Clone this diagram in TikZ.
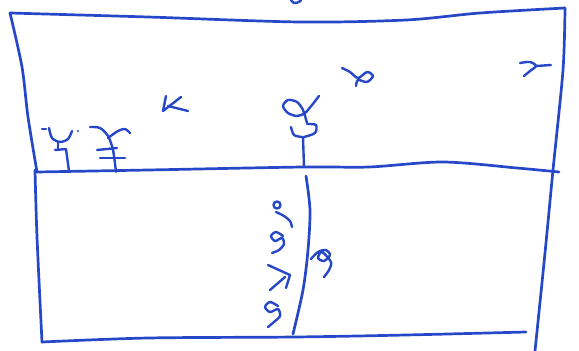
\documentclass[tikz,border=0pt]{standalone}
\definecolor{penc}{RGB}{38,72,200}
\begin{document}
\begin{tikzpicture}[x=1pt,y=-1pt,
  pen/.style={draw=penc, line width=2.7pt, line cap=round, line join=round},
  glyph/.style={draw=penc, line width=2.4pt, line cap=round, line join=round}]
\useasboundingbox (0,0) rectangle (579,351);
% frame
\coordinate (tl) at (10,13);
\coordinate (tr) at (565,8);
\coordinate (ml) at (37,172);
\coordinate (mr) at (559,172);
\coordinate (bl) at (42,342);
\coordinate (br) at (526,332);
\draw[pen] plot[smooth] coordinates {(tl) (148,17) (300,22) (406,20) (480,13) (tr)};
\draw[pen] plot[smooth] coordinates {(tl) (22,67) (28,117) (ml)};
\draw[pen] plot[smooth] coordinates {(35,170) (37,237) (bl)};
\draw[pen] plot[smooth] coordinates {(tr) (563,70) (553,170) (545,253) (535,351)};
\draw[pen] plot[smooth] coordinates {(ml) (148,170) (303,167) (369,167) (443,162) (517,168) (mr)};
\draw[pen] plot[smooth] coordinates {(bl) (148,338) (295,337) (406,335) (br)};
\draw[pen] plot[smooth] coordinates {(306,176) (310,210) (308,250) (303,290) (293,334)};
% top edge glyph
\draw[glyph] plot[smooth] coordinates {(291,0) (294,3) (299,2) (301,0)};
% upper panel glyphs
\draw[glyph] (166,96) -- (163,111) -- (181,97);
\draw[glyph] (168,106) -- (188,111);
\draw[glyph] plot[smooth] coordinates {(342,68) (350,72) (358,78) (367,72) (373,76) (367,82) (358,80) (356,86)};
\draw[glyph] plot[smooth] coordinates {(520,63) (530,62) (536,66) (530,71) (524,76)};
\draw[glyph] (536,66) -- (551,65);
% plant glyph
\draw[glyph] plot[smooth] coordinates {(319,96) (312,105) (305,113) (297,116) (288,113) (283,106) (288,100) (297,102) (303,110) (307,123)};
\draw[glyph] plot[smooth] coordinates {(307,124) (316,125) (315,133) (304,137)};
\draw[glyph] plot[smooth] coordinates {(291,127) (294,135) (302,137)};
\draw[glyph] (303,137) -- (304,167);
% left glyphs
\draw[glyph] (42,129) -- (46,129);
\draw[glyph] plot[smooth] coordinates {(49,128) (52,138) (60,142) (68,139) (72,131)};
\fill[penc] (78,131) circle (1.2pt);
\draw[glyph] (58,142) -- (58,149);
\draw[glyph] (55,150) -- (66,149) -- (69,171);
\draw[glyph] plot[smooth] coordinates {(90,127) (100,128) (108,136) (113,150) (116,172)};
\draw[glyph] plot[smooth] coordinates {(108,138) (118,131) (125,129) (130,133)};
\draw[glyph] (97,150) -- (117,148);
\draw[glyph] (100,158) -- (125,158);
% lower column glyphs
\draw[glyph] (277,205) circle (3.5pt);
\draw[glyph] plot[smooth] coordinates {(276,212) (284,216) (290,221) (292,227)};
\draw[glyph] plot[smooth] coordinates {(283,236) (276,232) (271,236) (275,241) (282,238) (284,244) (279,250) (272,253)};
\draw[glyph] (268,265) -- (290,275) -- (286,288);
\draw[glyph] (270,290) -- (285,277);
\draw[glyph] plot[smooth] coordinates {(278,306) (270,302) (265,307) (270,312) (278,309) (280,316) (274,322) (268,327)};
\draw[glyph] plot[smooth] coordinates {(311,259) (318,252) (326,250) (330,255) (324,261) (318,258) (322,252) (331,262) (329,270) (324,277)};
\end{tikzpicture}
\end{document}
